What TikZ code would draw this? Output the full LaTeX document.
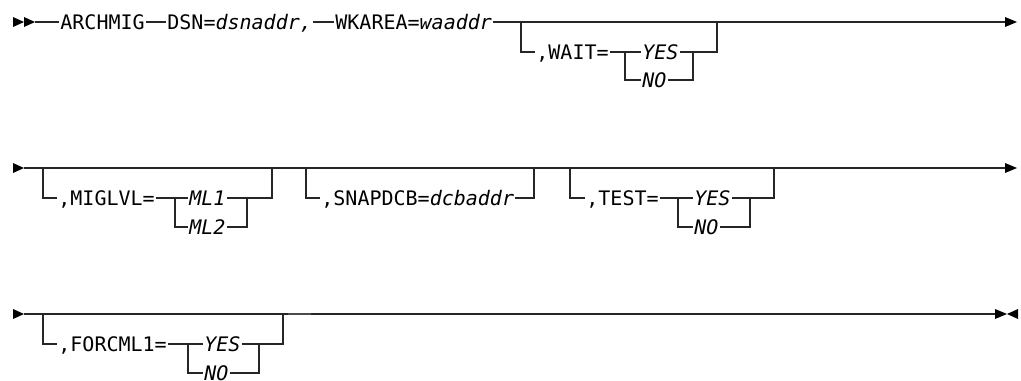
\documentclass[tikz,border=0pt]{standalone}
\usepackage{fontspec}
\setmonofont{DejaVu Sans Mono}
\begin{document}
\begin{tikzpicture}[x=0.5pt,y=-0.5pt,
  ln/.style={line width=0.6pt, draw=black!85},
  kw/.style={font=\fontsize{10}{12}\selectfont\ttfamily, inner xsep=0.5pt, inner ysep=0pt, text height=8.3pt, text depth=0.9pt, anchor=west},
  var/.style={kw, font=\fontsize{10}{12}\selectfont\ttfamily\itshape},
  tip/.style={fill=black, draw=none}]
\useasboundingbox (0,0) rectangle (1021,380);
% ---------------- row 1 ----------------
\coordinate (s1) at (35,22);
\node[kw] (arch) at (59,22) {ARCHMIG};
\node[kw] (dsn) at (166,22) {DSN=\textit{dsnaddr,}};
\node[kw] (wk) at (334,22) {WKAREA=\textit{waaddr}};
\coordinate (b1l) at (521,22);
\coordinate (b1r) at (717,22);
\coordinate (e1) at (1005,22);
\node[kw] (wait) at (535,52) {,WAIT=};
\coordinate (wb) at (625,52);
\node[var] (wyes) at (641,52) {YES};
\coordinate (wj) at (693,52);
\node[var] (wno) at (641,80) {NO};
\draw[ln] (s1) -- (arch) -- (dsn) -- (wk) -- (e1);
\draw[ln] (b1l) |- (wait.west);
\draw[ln] (wait) -- (wyes);
\draw[ln] (wyes.east) -| (b1r);
\draw[ln] (wb) |- (wno.west);
\draw[ln] (wno.east) -| (wj);
\fill[tip] (13,17) -- (24,22) -- (13,27) -- cycle;
\fill[tip] (24,17) -- (35,22) -- (24,27) -- cycle;
\fill[tip] (1005,17) -- (1017,22) -- (1005,27) -- cycle;
% ---------------- row 2 ----------------
\coordinate (s2) at (24,168);
\coordinate (b2l) at (43,168);
\coordinate (b2r) at (272,168);
\coordinate (b3l) at (306,168);
\coordinate (b3r) at (534,168);
\coordinate (b4l) at (570,168);
\coordinate (b4r) at (774,168);
\coordinate (e2) at (1005,168);
\node[kw] (mig) at (57,198) {,MIGLVL=};
\coordinate (mb) at (175,198);
\node[var] (ml1) at (188,198) {ML1};
\coordinate (mj) at (247,198);
\node[var] (ml2) at (188,227) {ML2};
\node[kw] (snap) at (320,198) {,SNAPDCB=\textit{dcbaddr}};
\node[kw] (test) at (585,198) {,TEST=};
\coordinate (tb) at (678,198);
\node[var] (tyes) at (693,198) {YES};
\coordinate (tj) at (750,198);
\node[var] (tno) at (693,227) {NO};
\draw[ln] (s2) -- (e2);
\draw[ln] (b2l) |- (mig.west);
\draw[ln] (mig) -- (ml1);
\draw[ln] (ml1.east) -| (b2r);
\draw[ln] (mb) |- (ml2.west);
\draw[ln] (ml2.east) -| (mj);
\draw[ln] (b3l) |- (snap.west);
\draw[ln] (snap.east) -| (b3r);
\draw[ln] (b4l) |- (test.west);
\draw[ln] (test) -- (tyes);
\draw[ln] (tyes.east) -| (b4r);
\draw[ln] (tb) |- (tno.west);
\draw[ln] (tno.east) -| (tj);
\fill[tip] (13,163) -- (24,168) -- (13,173) -- cycle;
\fill[tip] (1005,163) -- (1017,168) -- (1005,173) -- cycle;
% ---------------- row 3 ----------------
\coordinate (s3) at (24,314);
\coordinate (b5l) at (43,314);
\coordinate (b5r) at (283,314);
\coordinate (e3) at (995,314);
\coordinate (g1) at (288,314);
\coordinate (g2) at (311,314);
\node[kw] (forc) at (57,344) {,FORCML1=};
\coordinate (fb) at (188,344);
\node[var] (fyes) at (203,344) {YES};
\coordinate (fj) at (259,344);
\node[var] (fno) at (203,373) {NO};
\draw[ln] (s3) -- (e3);
\draw[line width=1pt, draw=black!70] (g1) -- (g2);
\draw[ln] (b5l) |- (forc.west);
\draw[ln] (forc) -- (fyes);
\draw[ln] (fyes.east) -| (b5r);
\draw[ln] (fb) |- (fno.west);
\draw[ln] (fno.east) -| (fj);
\fill[tip] (13,309) -- (24,314) -- (13,319) -- cycle;
\fill[tip] (995,309) -- (1007,314) -- (995,319) -- cycle;
\fill[tip] (1018,309) -- (1007,314) -- (1018,319) -- cycle;
\end{tikzpicture}
\end{document}
